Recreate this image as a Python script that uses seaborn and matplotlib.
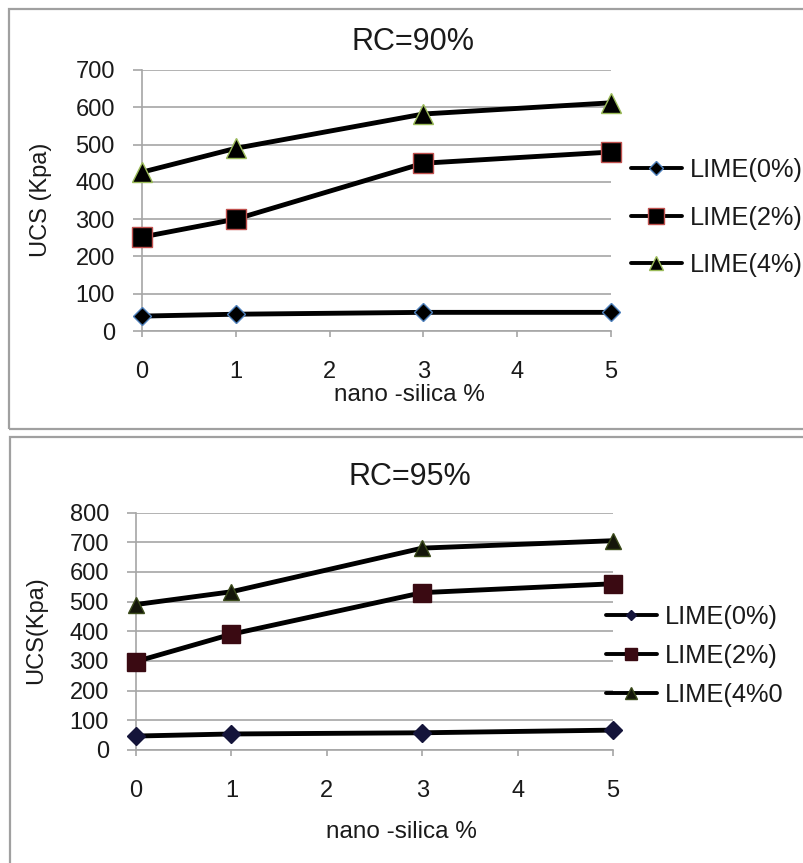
import matplotlib
matplotlib.use("Agg")
import matplotlib.pyplot as plt
import seaborn as sns
import pandas as pd
from matplotlib.patches import Rectangle
from matplotlib.lines import Line2D

# ---------------- data ----------------
nano_silica = [0, 1, 3, 5]
x_ticks = [0, 1, 2, 3, 4, 5]

title_90 = "RC=90%"
labels_90 = ["LIME(0%)", "LIME(2%)", "LIME(4%)"]
ucs_90_lime0 = [40, 45, 50, 50]
ucs_90_lime2 = [252, 300, 450, 480]
ucs_90_lime4 = [426, 490, 582, 612]
y_ticks_90 = [0, 100, 200, 300, 400, 500, 600, 700]

title_95 = "RC=95%"
labels_95 = ["LIME(0%)", "LIME(2%)", "LIME(4%0"]
ucs_95_lime0 = [47, 54, 58, 67]
ucs_95_lime2 = [298, 390, 530, 560]
ucs_95_lime4 = [490, 533, 680, 705]
y_ticks_95 = [0, 100, 200, 300, 400, 500, 600, 700, 800]

xlabel_text = "nano -silica %"
ylabel_90 = "UCS (Kpa)"
ylabel_95 = "UCS(Kpa)"

# ---------------- style ----------------
sns.set_theme(style="white")
plt.rcParams['font.family'] = ['Liberation Sans', 'DejaVu Sans']
TXT = "#1a1a1a"
GRID = "#a6a6a6"

W, H = 804, 863
fig = plt.figure(figsize=(W / 100, H / 100), dpi=100)

def fx(px):
    return px / W

def fy(py):
    return 1 - py / H

# frames
fig.patches.append(Rectangle((fx(9), fy(429)), fx(805) - fx(9), fy(9) - fy(429),
                             transform=fig.transFigure, fill=False,
                             edgecolor="#a0a0a0", lw=1.6))
fig.patches.append(Rectangle((fx(10), fy(875)), fx(805) - fx(10), fy(437) - fy(875),
                             transform=fig.transFigure, fill=False,
                             edgecolor="#a0a0a0", lw=1.6))


def make_panel(ax_px, series, labels, styles, yticks, title, title_pos,
               xlab_pos, ylab, ylab_pos, leg_anchor, leg_spacing, leg_styles):
    x0, x1, ytop, ybot = ax_px
    ax = fig.add_axes([fx(x0), fy(ybot), fx(x1) - fx(x0), fy(ytop) - fy(ybot)])
    for vals, lab, st in zip(series, labels, styles):
        df = pd.DataFrame({"nano": nano_silica, "ucs": vals})
        sns.lineplot(data=df, x="nano", y="ucs", ax=ax, color="black", lw=3.5,
                     marker=st["marker"], ms=st["ms"], mfc=st["fc"],
                     mec=st["ec"], mew=1.0, clip_on=False, legend=False,
                     zorder=3)
    ax.set_xlim(0, 5)
    ax.set_ylim(yticks[0], yticks[-1])
    ax.set_xticks(x_ticks)
    ax.set_yticks(yticks)
    ax.set_xticklabels([str(v) for v in x_ticks])
    ax.set_yticklabels([str(v) for v in yticks])
    ax.yaxis.grid(True, color=GRID, lw=1.2)
    ax.xaxis.grid(False)
    for s in ["top", "right"]:
        ax.spines[s].set_visible(False)
    for s in ["left", "bottom"]:
        ax.spines[s].set_color(GRID)
        ax.spines[s].set_linewidth(1.2)
    ax.tick_params(axis="y", direction="out", length=6.5, width=1.2, color=GRID,
                   pad=13, labelsize=17, labelcolor=TXT, left=True)
    ax.tick_params(axis="x", direction="out", length=4.5, width=1.2, color=GRID,
                   pad=17, labelsize=17, labelcolor=TXT, bottom=True)
    ax.text(title_pos[0], title_pos[1], title, transform=ax.transAxes,
            ha="center", va="center", fontsize=22, color=TXT)
    ax.set_xlabel(xlabel_text, fontsize=17.5, color=TXT, va="center")
    ax.xaxis.set_label_coords(*xlab_pos)
    ax.set_ylabel(ylab, fontsize=17, color=TXT, va="center", ha="center")
    ax.yaxis.set_label_coords(*ylab_pos)

    handles = [Line2D([0], [0], color="black", lw=2.8, marker=st["marker"],
                      ms=st["ms"], mfc=st["fc"], mec=st["ec"], mew=1.0)
               for st in leg_styles]
    ax.legend(handles, labels, loc="center left", bbox_to_anchor=leg_anchor,
              bbox_transform=fig.transFigure, frameon=False, fontsize=18.3,
              handlelength=2.0, handletextpad=0.3, labelspacing=leg_spacing,
              borderpad=0, borderaxespad=0, labelcolor=TXT)
    return ax


styles_90 = [dict(marker="D", ms=9.5, fc="black", ec="#4f81bd"),
             dict(marker="s", ms=14.5, fc="black", ec="#c0504d"),
             dict(marker="^", ms=14.5, fc="black", ec="#9bbb59")]
leg_styles_90 = [dict(marker="D", ms=7, fc="black", ec="#4f81bd"),
                 dict(marker="s", ms=12, fc="black", ec="#c0504d"),
                 dict(marker="^", ms=10.5, fc="black", ec="#9bbb59")]

make_panel((142, 611, 70, 331),
           [ucs_90_lime0, ucs_90_lime2, ucs_90_lime4], labels_90, styles_90,
           y_ticks_90, title_90, (0.578, 1.107), (0.571, -0.245),
           ylabel_90, (-0.215, 0.502), (fx(631), fy(217.5)), 0.92, leg_styles_90)

styles_95 = [dict(marker="D", ms=9, fc="#14143a", ec="#14143a"),
             dict(marker="s", ms=13, fc="#3a0a12", ec="#3a0a12"),
             dict(marker="^", ms=12, fc="#14160a", ec="#3a4a1a")]
leg_styles_95 = [dict(marker="D", ms=5.5, fc="#14143a", ec="#14143a"),
                 dict(marker="s", ms=9, fc="#3a0a12", ec="#3a0a12"),
                 dict(marker="^", ms=8, fc="#14160a", ec="#3a4a1a")]

make_panel((136, 613, 512.5, 750),
           [ucs_95_lime0, ucs_95_lime2, ucs_95_lime4], labels_95, styles_95,
           y_ticks_95, title_95, (0.574, 1.149), (0.556, -0.345),
           ylabel_95, (-0.210, 0.505), (fx(606), fy(656)), 0.58, leg_styles_95)

fig.savefig("out.png", dpi=100)
